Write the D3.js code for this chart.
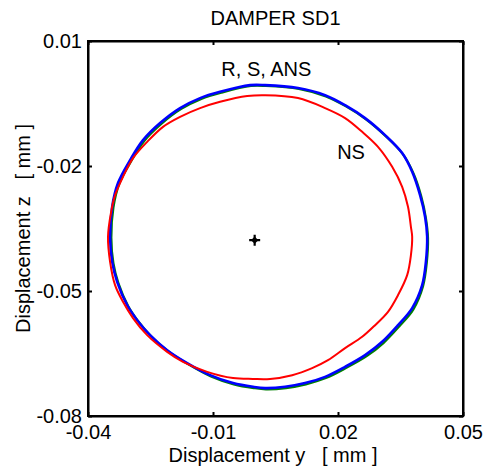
<!DOCTYPE html>
<html>
<head>
<meta charset="utf-8">
<script src="https://cdn.jsdelivr.net/npm/d3@7/dist/d3.min.js"></script>
<style>
  html, body { margin: 0; padding: 0; background: #fff; }
  svg { display: block; font-family: "Liberation Sans", Arial, sans-serif; }
</style>
</head>
<body>
<svg id="chart" width="487" height="474"></svg>
<script>
// ---- Data ----
const title = "DAMPER SD1";
const xLabel = "Displacement y   [ mm ]";
const yLabel = "Displacement z   [ mm ]";
const xDomain = [-0.04, 0.05];
const yDomain = [-0.08, 0.01];
const xTicks = [-0.04, -0.01, 0.02, 0.05];
const xTickLabels = ["-0.04", "-0.01", "0.02", "0.05"];
const yTicks = [0.01, -0.02, -0.05, -0.08];
const yTickLabels = ["0.01", "-0.02", "-0.05", "-0.08"];

// NS orbit (red)
const nsY = [0.0025,0.0104,0.0169,0.0217,0.0258,0.0296,0.0330,0.0354,0.0368,0.0375,0.0378,0.0375,0.0366,0.0344,0.0320,0.0289,0.0258,0.0217,0.0176,0.0138,0.0090,0.0037,-0.0004,-0.0052,-0.0114,-0.0172,-0.0210,-0.0258,-0.0292,-0.0316,-0.0335,-0.0347,-0.0352,-0.0345,-0.0335,-0.0316,-0.0292,-0.0258,-0.0220,-0.0179,-0.0131,-0.0083,-0.0018];
const nsZ = [-0.0030,-0.0037,-0.0061,-0.0085,-0.0118,-0.0154,-0.0202,-0.0250,-0.0298,-0.0346,-0.0370,-0.0414,-0.0462,-0.0510,-0.0550,-0.0582,-0.0610,-0.0637,-0.0666,-0.0685,-0.0702,-0.0711,-0.0711,-0.0709,-0.0694,-0.0670,-0.0646,-0.0606,-0.0565,-0.0526,-0.0486,-0.0430,-0.0370,-0.0313,-0.0270,-0.0226,-0.0181,-0.0142,-0.0106,-0.0082,-0.0061,-0.0046,-0.0032];

// S orbit (green)
const sY = [0.0027,0.0106,0.0171,0.0219,0.0267,0.0315,0.0356,0.0381,0.0400,0.0411,0.0416,0.0413,0.0404,0.0381,0.0347,0.0309,0.0268,0.0219,0.0171,0.0123,0.0075,0.0027,-0.0002,-0.0050,-0.0105,-0.0159,-0.0207,-0.0248,-0.0279,-0.0303,-0.0327,-0.0339,-0.0344,-0.0339,-0.0325,-0.0296,-0.0265,-0.0224,-0.0176,-0.0128,-0.0080,-0.0009];
const sZ = [-0.0008,-0.0015,-0.0033,-0.0057,-0.0088,-0.0129,-0.0172,-0.0217,-0.0273,-0.0325,-0.0373,-0.0433,-0.0489,-0.0544,-0.0585,-0.0625,-0.0657,-0.0685,-0.0709,-0.0724,-0.0733,-0.0736,-0.0733,-0.0724,-0.0705,-0.0676,-0.0645,-0.0609,-0.0573,-0.0537,-0.0481,-0.0433,-0.0372,-0.0300,-0.0243,-0.0188,-0.0140,-0.0099,-0.0063,-0.0039,-0.0024,-0.0008];

// R / ANS orbit (blue)
const rY = [0.0025,0.0104,0.0169,0.0217,0.0265,0.0313,0.0354,0.0378,0.0397,0.0409,0.0414,0.0411,0.0402,0.0378,0.0344,0.0306,0.0265,0.0217,0.0169,0.0121,0.0073,0.0025,-0.0004,-0.0052,-0.0107,-0.0162,-0.0210,-0.0251,-0.0282,-0.0306,-0.0330,-0.0342,-0.0347,-0.0342,-0.0328,-0.0299,-0.0268,-0.0227,-0.0179,-0.0131,-0.0083,-0.0011];
const rZ = [-0.0006,-0.0013,-0.0030,-0.0054,-0.0085,-0.0126,-0.0169,-0.0214,-0.0270,-0.0322,-0.0370,-0.0430,-0.0486,-0.0541,-0.0582,-0.0622,-0.0654,-0.0682,-0.0706,-0.0721,-0.0730,-0.0733,-0.0730,-0.0721,-0.0702,-0.0673,-0.0642,-0.0606,-0.0570,-0.0534,-0.0478,-0.0430,-0.0370,-0.0298,-0.0241,-0.0186,-0.0138,-0.0097,-0.0061,-0.0037,-0.0022,-0.0006];

const centerPoint = [0.0, -0.0378];
const annotations = [
  { text: "R, S, ANS", y: -0.0080, z: 0.0016 },
  { text: "NS", y: 0.0198, z: -0.0183 }
];

// ---- Layout ----
const svg = d3.select("#chart");
const mLeft = 88, mRight = 463, mTop = 41, mBottom = 416;
const x = d3.scaleLinear().domain(xDomain).range([mLeft, mRight]);
const y = d3.scaleLinear().domain(yDomain).range([mBottom, mTop]);
const FS = 20;

function toPts(a, b) { return a.map((v, i) => [v, b[i]]); }
const line = d3.line().x(d => x(d[0])).y(d => y(d[1])).curve(d3.curveCatmullRomClosed.alpha(0.5));

const series = [
  { pts: toPts(sY, sZ), color: "#008000", w: 2.2 },
  { pts: toPts(rY, rZ), color: "#0000ff", w: 2.6 },
  { pts: toPts(nsY, nsZ), color: "#ff0000", w: 2 }
];

const plot = svg.append("g");
series.forEach(s => {
  plot.append("path")
    .attr("d", line(s.pts))
    .attr("fill", "none")
    .attr("stroke", s.color)
    .attr("stroke-width", s.w)
    .attr("stroke-linejoin", "round");
});

// center marker
const cx = x(centerPoint[0]), cy = y(centerPoint[1]);
plot.append("path")
  .attr("d", `M${cx-5.5},${cy}H${cx+5.5}M${cx},${cy-5.5}V${cy+5.5}`)
  .attr("stroke", "#000").attr("stroke-width", 2.2);
plot.append("rect")
  .attr("x", cx - 2.6).attr("y", cy - 2.6).attr("width", 5.2).attr("height", 5.2)
  .attr("transform", `rotate(45,${cx},${cy})`)
  .attr("fill", "#000");

// annotations
annotations.forEach(a => {
  svg.append("text")
    .attr("x", x(a.y)).attr("y", y(a.z))
    .attr("font-size", FS)
    .attr("fill", "#000")
    .text(a.text);
});

// axes
function styleAxis(g) {
  g.select(".domain").attr("stroke", "#000").attr("stroke-width", 2);
  g.selectAll(".tick line").attr("stroke", "#000").attr("stroke-width", 2);
  g.selectAll(".tick text").attr("fill", "#000").attr("font-size", FS)
    .attr("font-family", "'Liberation Sans', Arial, sans-serif");
}

svg.append("g").attr("transform", `translate(0,${mBottom})`)
  .call(d3.axisBottom(x).tickValues(xTicks).tickFormat((d, i) => xTickLabels[i])
    .tickSizeInner(-4).tickSizeOuter(0).tickPadding(9))
  .call(styleAxis);
svg.append("g").attr("transform", `translate(0,${mTop})`)
  .call(d3.axisTop(x).tickValues(xTicks).tickFormat("")
    .tickSizeInner(-4).tickSizeOuter(0))
  .call(styleAxis);
svg.append("g").attr("transform", `translate(${mLeft},0)`)
  .call(d3.axisLeft(y).tickValues(yTicks).tickFormat((d, i) => yTickLabels[i])
    .tickSizeInner(-4).tickSizeOuter(0).tickPadding(6))
  .call(styleAxis);
svg.append("g").attr("transform", `translate(${mRight},0)`)
  .call(d3.axisRight(y).tickValues(yTicks).tickFormat("")
    .tickSizeInner(-4).tickSizeOuter(0))
  .call(styleAxis);

// box
svg.append("rect")
  .attr("x", mLeft).attr("y", mTop).attr("width", mRight - mLeft).attr("height", mBottom - mTop)
  .attr("fill", "none").attr("stroke", "#000").attr("stroke-width", 2);

// title and labels
svg.append("text")
  .attr("x", (mLeft + mRight) / 2).attr("y", 25)
  .attr("text-anchor", "middle").attr("font-size", FS).attr("fill", "#000")
  .text(title);
svg.append("text")
  .attr("x", 273).attr("y", 462)
  .attr("text-anchor", "middle").attr("font-size", FS).attr("fill", "#000")
  .style("white-space", "pre")
  .text(xLabel);
svg.append("text")
  .attr("transform", `translate(30,${(mTop + mBottom) / 2}) rotate(-90)`)
  .attr("text-anchor", "middle").attr("font-size", FS).attr("fill", "#000")
  .style("white-space", "pre")
  .text(yLabel);
</script>
</body>
</html>
